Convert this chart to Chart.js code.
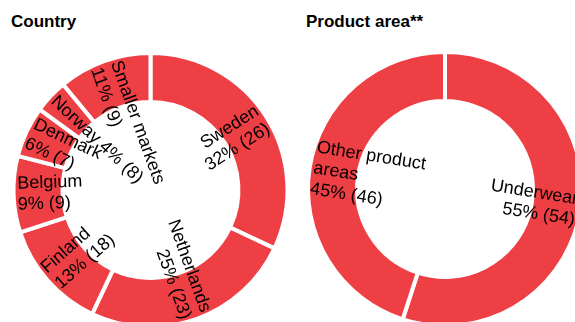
<!DOCTYPE html>
<html>
<head>
<meta charset="utf-8">
<script src="https://cdn.jsdelivr.net/npm/chart.js@4"></script>
<style>
  html, body { margin: 0; padding: 0; background: #fff; }
  body { width: 575px; height: 322px; overflow: hidden; position: relative; font-family: "Liberation Sans", Arial, sans-serif; }
  .title { position: absolute; top: 12px; font-weight: bold; font-size: 17px; color: #000; }
  canvas { position: absolute; }
</style>
</head>
<body>
<div class="title" style="left:11px">Country</div>
<div class="title" style="left:306px">Product area**</div>
<canvas id="countryChart" width="301" height="300" style="left:0px;top:40px"></canvas>
<canvas id="productChart" width="300" height="300" style="left:295px;top:39px"></canvas>
<script>
// share of sales in percent, previous year in brackets
var countryNames = ['Sweden', 'Netherlands', 'Finland', 'Belgium', 'Denmark', 'Norway', 'Smaller markets'];
var countryShare = [32, 25, 13, 9, 6, 4, 11];
var countryPrev = [26, 23, 18, 9, 7, 8, 9];

var productNames = [['Underwear'], ['Other product', 'areas']];
var productShare = [55, 45];
var productPrev = [54, 46];

var red = '#ee3f45';

// writes the labels along the radius, flipped when they would be upside down
var radialLabels = {
    id: 'radialLabels',
    afterDatasetsDraw: function(chart) {
        var ctx = chart.ctx;
        var meta = chart.getDatasetMeta(0);
        var names = chart.data.labels;
        var share = chart.data.datasets[0].data;
        var prev = chart.data.datasets[0].prev;
        ctx.save();
        ctx.font = '18px "Liberation Sans", Arial, sans-serif';
        ctx.fillStyle = '#000';
        ctx.textBaseline = 'middle';
        for(var i=0; i<meta.data.length; ++i) {
            var arc = meta.data[i];
            var mid = (arc.startAngle + arc.endAngle) / 2;
            var r = arc.outerRadius - 4;
            var lines = [].concat(names[i]);
            var pct = share[i] + '% (' + prev[i] + ')';
            if(share[i] <= 4) {
                lines[lines.length-1] += ' ' + pct;
            } else {
                lines.push(pct);
            }
            var flip = Math.cos(mid) < 0;
            ctx.save();
            ctx.translate(arc.x, arc.y);
            ctx.rotate(flip ? mid + Math.PI : mid);
            ctx.textAlign = flip ? 'left' : 'right';
            var x = flip ? -r : r;
            var lh = 21;
            for(var j=0; j<lines.length; ++j) {
                ctx.fillText(lines[j], x, (j - (lines.length-1)/2) * lh);
            }
            ctx.restore();
        }
        ctx.restore();
    }
};

function makeDonut(id, names, share, prev) {
    return new Chart(document.getElementById(id), {
        type: 'doughnut',
        data: {
            labels: names,
            datasets: [{
                data: share,
                prev: prev,
                backgroundColor: red,
                borderColor: '#fff',
                borderWidth: 4,
                borderAlign: 'center'
            }]
        },
        options: {
            responsive: false,
            animation: false,
            radius: 137,
            cutout: 95,
            layout: { padding: 0 },
            plugins: {
                legend: { display: false },
                tooltip: { enabled: false }
            }
        },
        plugins: [radialLabels]
    });
}

makeDonut('countryChart', countryNames, countryShare, countryPrev);
makeDonut('productChart', productNames, productShare, productPrev);
</script>
</body>
</html>
